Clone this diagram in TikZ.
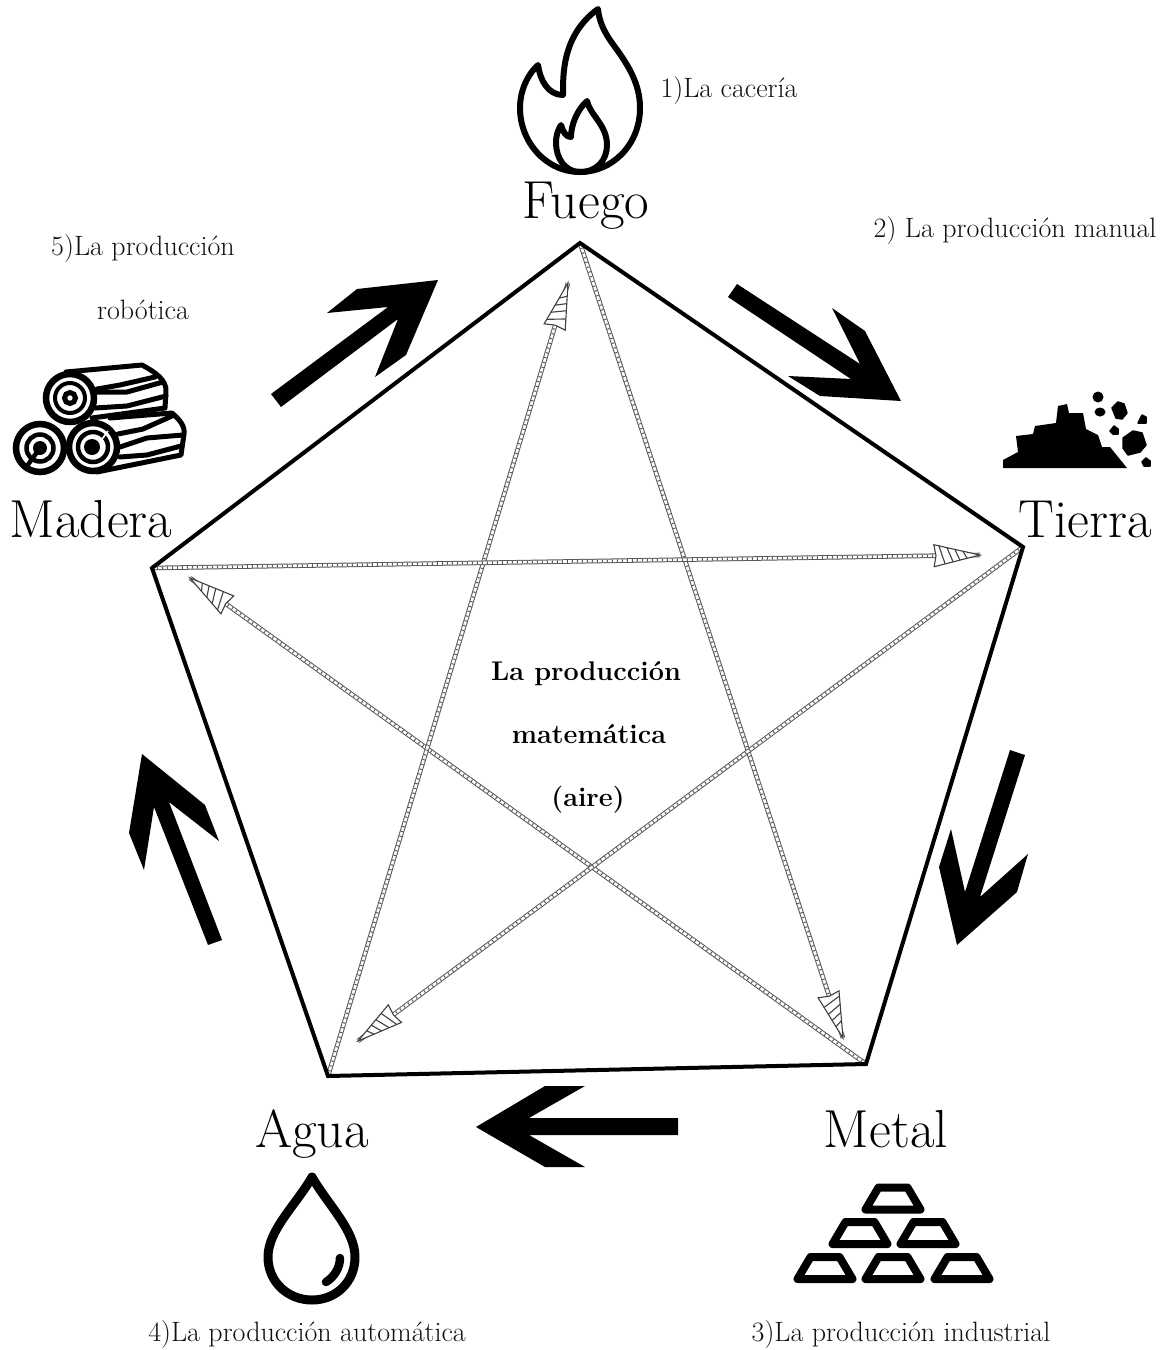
\documentclass[tikz,border=0pt]{standalone}
\usetikzlibrary{calc}
\definecolor{inktext}{HTML}{111111}
\newcommand{\fsz}[1]{\fontsize{#1}{#1}\selectfont}
\tikzset{
  x=1pt,y=-1pt,
  element/.style={anchor=base,inner sep=0pt,text=black,font=\fsz{53.5}},
  caption/.style={anchor=base,inner sep=0pt,text=inktext,font=\fsz{28}},
  centre/.style={anchor=base,inner sep=0pt,text=black,font=\fsz{27}\bfseries},
  pentagon/.style={draw=black,line width=4pt,line join=miter},
  bigarrow/.style={fill=black,draw=none},
  shaft/.style={draw=black!65,line width=4.6pt,
    postaction={draw=white,line width=2.6pt},
    postaction={draw=black!65,line width=2.6pt,dash pattern=on 1pt off 4pt}},
  hatchline/.style={draw=black!75,line width=1.1pt},
  iconline/.style={draw=black,line width=6pt,line join=round,line cap=round},
  logline/.style={draw=black,line width=5pt,line join=round,line cap=round},
  rock/.style={fill=black,draw=black,line width=1.5pt,line join=round},
  pics/starhead/.style={code={
    \fill[white] (0,0) -- (-46,11) -- (-44,0) -- (-46,-11) -- cycle;
    \draw[hatchline] (-41,-10) -- (-35,8.5);
    \draw[hatchline] (-33,-8) -- (-27,6.5);
    \draw[hatchline] (-25,-6) -- (-20,5);
    \draw[hatchline] (-17,-4) -- (-13,3);
    \draw[hatchline,line join=miter] (0,0) -- (-46,11) -- (-44,0) -- (-46,-11) -- cycle;
  }},
  pics/ingot/.style={code={
    \draw[draw=black,line width=8pt,line join=round] (-14.5,-22) -- (14.5,-22) -- (27.5,0) -- (-27.5,0) -- cycle;
  }},
}
\begin{document}
\begin{tikzpicture}
\useasboundingbox (0,0) rectangle (1163,1350);
\fill[white] (0,0) rectangle (1163,1350);

% vertices
\coordinate (F) at (580,243);
\coordinate (T) at (1023,547);
\coordinate (M) at (866,1064);
\coordinate (A) at (328,1076);
\coordinate (W) at (152,568);
% star tips
\coordinate (tipM) at (843,1038);
\coordinate (tipW) at (190,578);
\coordinate (tipF) at (568,283);
\coordinate (tipT) at (980,555);
\coordinate (tipA) at (358,1041);

% star
\draw[shaft] (F) -- (tipM) pic[pos=1,sloped,allow upside down]{starhead};
\draw[shaft] (M) -- (tipW) pic[pos=1,sloped,allow upside down]{starhead};
\draw[shaft] (A) -- (tipF) pic[pos=1,sloped,allow upside down]{starhead};
\draw[shaft] (W) -- (tipT) pic[pos=1,sloped,allow upside down]{starhead};
\draw[shaft] (T) -- (tipA) pic[pos=1,sloped,allow upside down]{starhead};

% pentagon
\draw[pentagon] (F) -- (T) -- (M) -- (A) -- (W) -- cycle;

% big arrows
\fill[bigarrow] (271,394) -- (388,307) -- (327,313) -- (357,289) -- (438,280) -- (406,355) -- (375,377) -- (398,319) -- (281,407) -- cycle;
\fill[bigarrow] (737,284) -- (860,364) -- (832,308) -- (865,331) -- (901,401) -- (820,396) -- (788,376) -- (851,379) -- (728,297) -- cycle;
\fill[bigarrow] (1010,750) -- (965,892) -- (951,829) -- (939,867) -- (957,945) -- (1017,892) -- (1028,854) -- (980,897) -- (1025,755) -- cycle;
\fill[bigarrow] (678,1118) -- (529,1118) -- (585,1086) -- (545,1086) -- (476,1127) -- (545,1167) -- (585,1167) -- (529,1135) -- (678,1135) -- cycle;
\fill[bigarrow] (222,940) -- (169,802) -- (219,841) -- (205,805) -- (142,754) -- (129,833) -- (144,870) -- (154,807) -- (208,945) -- cycle;

% fire icon
\draw[iconline] (598,9) .. controls (600,30) and (612,42) .. (622,57)
  .. controls (632,72) and (640,88) .. (640,108)
  .. controls (640,145) and (612,172) .. (580,172)
  .. controls (546,172) and (520,142) .. (520,108)
  .. controls (520,90) and (528,74) .. (538,65)
  .. controls (540,80) and (548,95) .. (563,95)
  .. controls (563,75) and (562,35) .. (598,9) -- cycle;
\draw[iconline] (587,101) .. controls (590,115) and (607,125) .. (607,145)
  .. controls (607,160) and (597,172) .. (580,172)
  .. controls (565,172) and (556,158) .. (556,143)
  .. controls (556,135) and (558,130) .. (561,125)
  .. controls (563,132) and (566,137) .. (571,137)
  .. controls (571,125) and (577,110) .. (587,101) -- cycle;

% logs icon
\draw[logline] (66,372) -- (142,365) .. controls (155,372) and (167,380) .. (166,392) -- (165,408) -- (92,418);
\draw[logline] (97,389) -- (120,385) -- (155,377);
\draw[logline] (97,392) -- (127,392) -- (163,382);
\draw[logline] (95,408) -- (127,406) -- (166,396);
\draw[logline] (110,418) -- (172,413) .. controls (180,420) and (185,426) .. (184,434) -- (181,455) -- (97,472);
\draw[logline] (118,434) -- (143,429) -- (172,416);
\draw[logline] (120,447) -- (147,438) -- (183,435);
\draw[logline] (120,457) -- (147,455) -- (181,446);
% top log end
\fill[white] (70,398) circle (25);
\draw[line width=6.5pt] (70,398) circle (24);
\draw[line width=5pt] (70,398) circle (5.5);
\draw[line width=4pt] (70,398) circle (15);
% bottom right log end
\fill[white] (93,447) circle (25);
\draw[line width=6.5pt] (93,447) circle (24);
\draw[line width=4.5pt] (93,447) circle (15);
\fill (92,447) circle (8);
\draw[line width=1.6pt,white] (100,442) -- (108,431);
% bottom left log end
\fill[white] (40,448) circle (25);
\draw[line width=6.5pt] (40,448) circle (24);
\draw[line width=4.5pt] (40,448) circle (13.5);
\fill (40,448) circle (7);
\draw[line width=4.5pt] (40,448) -- (27,466);

% earth icon
\fill[black] (1003,468) -- (1003,460) -- (1018,452) -- (1016,436) -- (1033,434) -- (1035,426) -- (1056,423) -- (1058,406) -- (1067,404) -- (1069,413) -- (1083,413) -- (1086,429) -- (1098,435) -- (1102,447) -- (1110,447) -- (1127,468) -- cycle;
\fill[black] (1098,397) circle (5.5);
\draw[rock] (1112,408) -- (1118,402) -- (1124,404) -- (1127,413) -- (1122,419) -- (1116,418) -- cycle;
\fill[black] (1100,412) ellipse (5.5 and 4.5);
\draw[rock] (1138,423) -- (1142,415) -- (1146,417) -- (1146,423) -- cycle;
\draw[rock] (1110,431) -- (1114,426) -- (1118,429) -- (1118,434) -- (1113,434) -- cycle;
\draw[rock] (1123,438) -- (1133,431) -- (1142,433) -- (1146,445) -- (1140,452) -- (1128,455) -- (1123,448) -- cycle;
\draw[rock] (1142,462) -- (1146,458) -- (1150,461) -- (1150,466) -- (1144,466) -- cycle;

% metal icon
\path (893,1209.5) pic{ingot};
\path (860,1244) pic{ingot};
\path (928,1244) pic{ingot};
\path (825,1279) pic{ingot};
\path (893,1279) pic{ingot};
\path (962,1279) pic{ingot};

% water icon
\draw[draw=black,line width=9pt,line join=round] (312,1177)
  .. controls (296,1205) and (268,1230) .. (268,1257)
  .. controls (268,1282) and (288,1300) .. (312,1300)
  .. controls (336,1300) and (355,1282) .. (355,1257)
  .. controls (355,1230) and (328,1205) .. (312,1177) -- cycle;
\draw[draw=black,line width=8.5pt,line cap=round] (340,1258) .. controls (340,1268) and (334,1277) .. (326,1282);

% labels
\node[element] (fuego) at (586,218) {Fuego};
\node[element] (tierra) at (1085,537) {Tierra};
\node[element] (metal) at (886,1147) {Metal};
\node[element] (agua) at (312,1147) {Agua};
\node[element] (madera) at (91,537) {Madera};

\node[caption] (cap1) at (729,97) {1)La cacería};
\node[caption] (cap2) at (1015,237) {2) La producción manual};
\node[caption] (cap3) at (901,1341) {3)La producción industrial};
\node[caption] (cap4) at (307,1341) {4)La producción automática};
\node[caption] (cap5a) at (143,255) {5)La producción};
\node[caption] (cap5b) at (143,319) {robótica};

\node[centre] (mid1) at (586,680) {La producción};
\node[centre] (mid2) at (589,743) {matemática};
\node[centre] (mid3) at (588,806) {(aire)};
\end{tikzpicture}
\end{document}
